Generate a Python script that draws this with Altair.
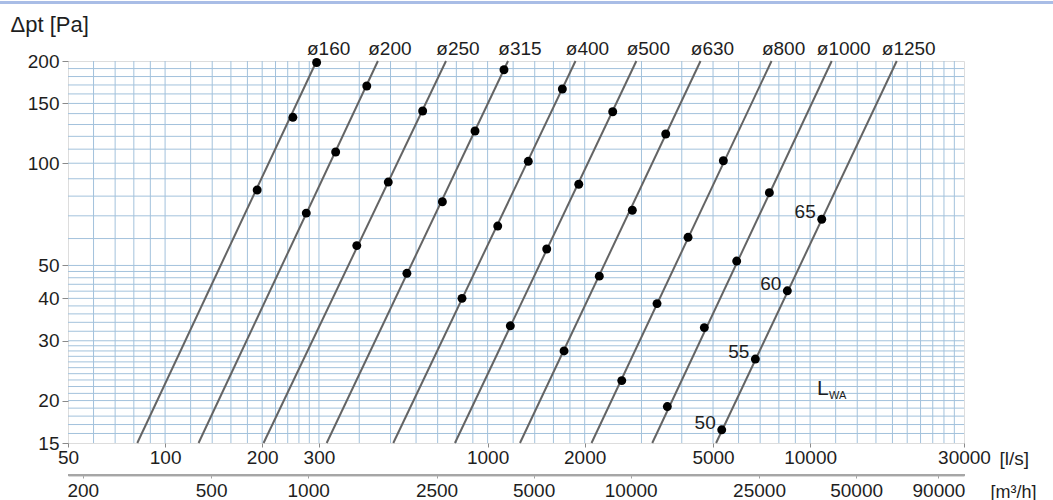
import altair as alt
import pandas as pd

FONT = "Liberation Sans"
TXT = "#1e1e1e"

# ---- data ----
diameters = ["ø160", "ø200", "ø250", "ø315", "ø400", "ø500", "ø630", "ø800", "ø1000", "ø1250"]
flow_at_15pa = [82, 127, 202, 317, 510, 792, 1260, 2100, 3240, 5110]          # l/s
flow_at_200pa = [295, 457, 743, 1157, 1873, 2892, 4573, 7593, 11667, 18560]   # l/s
p_low = 15
p_high = 200

dot_diameter = (["ø160"] * 3 + ["ø200"] * 3 + ["ø250"] * 3 + ["ø315"] * 4 + ["ø400"] * 4
                + ["ø500"] * 4 + ["ø630"] * 4 + ["ø800"] * 4 + ["ø1000"] * 4 + ["ø1250"] * 4)
dot_flow = [295, 249, 193,
            422, 338, 274,
            629, 492, 393,
            1124, 914, 724, 562,
            1705, 1337, 1075, 833,
            2443, 1917, 1525, 1176,
            3567, 2810, 2220, 1726,
            5382, 4183, 3352, 2606,
            7476, 5920, 4699, 3608,
            10866, 8499, 6764, 5320]
dot_pressure = [198, 136.5, 83.4,
                168.8, 107.9, 71.3,
                142.5, 88, 57.2,
                188.5, 124.4, 77, 47.4,
                165.4, 101.3, 65.3, 40,
                141.8, 86.7, 55.9, 33.2,
                121.9, 72.7, 46.5, 28,
                101.7, 60.5, 38.6, 22.9,
                81.9, 51.5, 32.8, 19.2,
                68.4, 42.1, 26.5, 16.4]

level_labels = ["65", "60", "55", "50"]
level_flow = [10866, 8499, 6764, 5320]
level_pressure = [68.4, 42.1, 26.5, 16.4]

lwa_flow = [10500]
lwa_pressure = [21.6]

x_ticks = [50, 100, 200, 300, 1000, 2000, 5000, 10000, 30000]
y_ticks = [15, 20, 30, 40, 50, 100, 150, 200]
m3h_ticks = [200, 500, 1000, 2500, 5000, 10000, 25000, 50000, 90000]

grid_x = [60, 70, 80, 90, 100, 120, 140, 160, 180, 200, 220, 240, 260, 280, 300,
          400, 500, 600, 700, 800, 900, 1000, 1200, 1400, 1600, 1800, 2000,
          3000, 4000, 5000, 6000, 7000, 8000, 9000, 10000, 12000, 14000, 16000,
          18000, 20000, 22000, 24000, 26000, 28000]
grid_y = [16, 17, 18, 19, 20, 21, 22, 23, 24, 25, 26, 27, 28, 29, 30,
          32, 34, 36, 38, 40, 42, 44, 46, 48, 50,
          60, 70, 80, 90, 100, 110, 120, 130, 140, 150, 160, 170, 180, 190]

# ---- tables ----
lines_df = pd.DataFrame({
    "d": diameters * 2,
    "q": flow_at_15pa + flow_at_200pa,
    "p": [p_low] * len(diameters) + [p_high] * len(diameters),
})
dots_df = pd.DataFrame({"d": dot_diameter, "q": dot_flow, "p": dot_pressure})
diam_lab_df = pd.DataFrame({"d": diameters, "q": flow_at_200pa, "p": [p_high] * len(diameters)})
lev_df = pd.DataFrame({"t": level_labels, "q": level_flow, "p": level_pressure})
lwa_df = pd.DataFrame({"q": lwa_flow, "p": lwa_pressure})
gx_df = pd.DataFrame({"q": grid_x})
gy_df = pd.DataFrame({"p": grid_y})
m3h_df = pd.DataFrame({"m3h": m3h_ticks})
band_row = pd.DataFrame({"k": [0]})
base_row = pd.DataFrame({"k": [1]})

x_scale = alt.Scale(type="log", domain=[50, 30000], nice=False)
y_scale = alt.Scale(type="log", domain=[15, 200], nice=False)

FS = 19

x_axis = alt.Axis(values=x_ticks, format="d", grid=False, domain=False, orient="bottom",
                  tickSize=4, tickColor="#8a8a8a", labelFont=FONT, labelFontSize=FS,
                  labelColor=TXT, labelPadding=1, labelFlush=False, labelOverlap=False,
                  title="[l/s]", titleFont=FONT, titleFontSize=19, titleFontWeight="normal",
                  titleColor=TXT, titleAlign="left", titleBaseline="middle", titleAngle=0,
                  titleX=931, titleY=15)
y_axis = alt.Axis(values=y_ticks, format="d", grid=False, domain=False,
                  tickSize=6, tickColor="#8a8a8a", labelFont=FONT, labelFontSize=FS,
                  labelColor=TXT, labelPadding=3, labelFlush=False, labelOverlap=False,
                  title="Δpt [Pa]", titleFont=FONT, titleFontSize=22, titleFontWeight="normal",
                  titleColor=TXT, titleAngle=0, titleAlign="left", titleBaseline="middle",
                  titleX=-58, titleY=-37)

X = alt.X("q:Q", scale=x_scale, axis=x_axis)
Y = alt.Y("p:Q", scale=y_scale, axis=y_axis)

grid_v = alt.Chart(gx_df).mark_rule(color="#a3c2dc", strokeWidth=1).encode(x=X)
grid_h = alt.Chart(gy_df).mark_rule(color="#a3c2dc", strokeWidth=1).encode(y=Y)

lines = alt.Chart(lines_df).mark_line(color="#646464", strokeWidth=2).encode(
    x=X, y=Y, detail="d:N")
dots = alt.Chart(dots_df).mark_circle(color="#000000", opacity=1, size=80).encode(x=X, y=Y)

diam_text = alt.Chart(diam_lab_df).mark_text(
    font=FONT, fontSize=FS, color=TXT, align="center", baseline="middle", dx=12, dy=-12
).encode(x=X, y=Y, text="d:N")

lev_text = alt.Chart(lev_df).mark_text(
    font=FONT, fontSize=FS, color=TXT, align="right", baseline="middle", dx=-6, dy=-7
).encode(x=X, y=Y, text="t:N")

lwa_L = alt.Chart(lwa_df).mark_text(
    font=FONT, fontSize=21, color=TXT, align="left", baseline="middle", text="L"
).encode(x=X, y=Y)
lwa_sub = alt.Chart(lwa_df).mark_text(
    font=FONT, fontSize=11, color=TXT, align="left", baseline="middle", text="WA", dx=12, dy=7
).encode(x=X, y=Y)

# thin light-blue band across the very top of the picture
top_band = alt.Chart(band_row).mark_rect(color="#a9bde6").encode(
    x=alt.value(-68), x2=alt.value(985), y=alt.value(-60), y2=alt.value(-57))

# baseline of the secondary m3/h scale
m3h_base = alt.Chart(base_row).mark_rect(color="#a6a6a6").encode(
    x=alt.value(0), x2=alt.value(897), y=alt.value(413), y2=alt.value(415))

main = alt.layer(grid_v, grid_h, top_band, m3h_base, lines, dots, diam_text, lev_text,
                 lwa_L, lwa_sub)

m3h_axis = alt.Axis(values=m3h_ticks, format="d", orient="bottom", offset=32, grid=False,
                    domain=True, domainColor="#b2b2b2", domainWidth=2, ticks=True, tickSize=3,
                    tickWidth=1, tickColor="#a0a0a0", labelFont=FONT, labelFontSize=FS,
                    labelColor=TXT, labelPadding=3, labelFlush=False, labelOverlap=False,
                    title="[m³/h]", titleFont=FONT, titleFontSize=18, titleFontWeight="normal",
                    titleColor=TXT, titleAlign="left", titleBaseline="middle", titleAngle=0,
                    titleX=922, titleY=17)
second = alt.Chart(m3h_df).mark_point(opacity=0).encode(
    x=alt.X("m3h:Q", scale=alt.Scale(type="log", domain=[180, 108000], nice=False), axis=m3h_axis))

chart = alt.layer(main, second).resolve_scale(x="independent").properties(
    width=896, height=382, autosize="none",
    padding={"left": 68, "top": 61, "right": 89, "bottom": 57},
).configure_view(fill="#e8e8ea", stroke="#9a9a9a", strokeWidth=1.5).configure(font=FONT)

chart.save("out.html", embed_options={"renderer": "svg", "actions": False})
